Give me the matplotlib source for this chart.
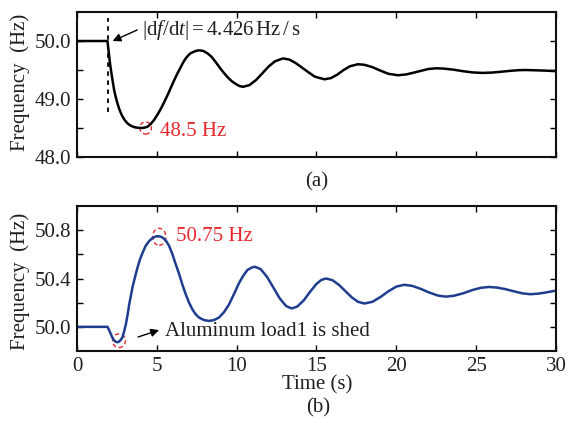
import numpy as np
import matplotlib
matplotlib.use('Agg')
import matplotlib.pyplot as plt
from matplotlib.patches import Ellipse

plt.rcParams['font.family'] = 'Liberation Serif'
plt.rcParams['mathtext.fontset'] = 'custom'
plt.rcParams['mathtext.rm'] = 'Liberation Serif'
plt.rcParams['mathtext.it'] = 'Liberation Serif:italic'

# (a) frequency after the disturbance, black curve
t_a = [0.0, 1.91, 2.02, 2.08, 2.16, 2.24, 2.33, 2.43, 2.54, 2.67, 2.81, 2.98,
       3.16, 3.37, 3.58, 3.79, 4.0, 4.2, 4.41, 4.62, 4.83, 5.04, 5.25, 5.45,
       5.66, 5.87, 6.08, 6.29, 6.5, 6.65, 6.81, 6.96, 7.12, 7.4, 7.64, 7.9,
       8.16, 8.42, 8.68, 9.0, 9.2, 9.42, 9.68, 9.94, 10.17, 10.4,
       10.8, 11.2, 11.6, 12.0, 12.4, 12.9, 13.3, 13.7, 14.1, 14.5, 14.9, 15.5,
       15.9, 16.3, 16.7, 17.1, 17.6, 18.0, 18.5, 19.0, 19.5, 20.1, 20.6, 21.1,
       21.6, 22.0, 22.5, 23.0, 23.6, 24.2, 24.8, 25.4, 26.0, 26.6, 27.2, 27.7,
       28.1, 28.7, 29.3, 30.0]
f_a = [50.0, 50.0, 49.73, 49.59, 49.44, 49.30, 49.15, 49.03, 48.92, 48.81, 48.72, 48.64,
       48.58, 48.54, 48.515, 48.505, 48.50, 48.505, 48.52, 48.57, 48.64, 48.73, 48.83, 48.94,
       49.06, 49.19, 49.32, 49.44, 49.55, 49.63, 49.70, 49.75, 49.79, 49.825, 49.84, 49.83,
       49.79, 49.73, 49.64, 49.52, 49.45, 49.38, 49.31, 49.26, 49.225, 49.21,
       49.24, 49.324, 49.44, 49.56, 49.65, 49.70, 49.68, 49.62, 49.54, 49.46, 49.385, 49.34,
       49.36, 49.42, 49.50, 49.565, 49.60, 49.59, 49.55, 49.49, 49.435, 49.41, 49.423, 49.455,
       49.49, 49.517, 49.53, 49.524, 49.505, 49.479, 49.458, 49.45, 49.456, 49.471, 49.4875, 49.4975,
       49.50, 49.495, 49.49, 49.48]

# (b) frequency with aluminum load1 shed, blue curve
t_b = [0.0, 1.91, 2.02, 2.12, 2.22, 2.33, 2.45, 2.58, 2.72, 2.85, 2.95, 3.06,
       3.17, 3.27, 3.38, 3.48, 3.63, 3.79, 3.95, 4.1, 4.3, 4.52, 4.73, 4.94,
       5.1, 5.25, 5.4, 5.56, 5.77, 5.98, 6.18, 6.39, 6.6, 6.81, 7.02, 7.23,
       7.43, 7.64, 7.95, 8.27, 8.58, 8.89, 9.2, 9.52, 9.83, 10.14, 10.4, 10.67,
       10.93, 11.15, 11.5, 11.9, 12.3, 12.7, 13.1, 13.45, 13.8, 14.2, 14.6, 15.0,
       15.3, 15.6, 16.0, 16.4, 16.8, 17.2, 17.6, 18.0, 18.5, 19.0, 19.5, 20.0,
       20.5, 21.0, 21.5, 22.0, 22.6, 23.1, 23.6, 24.2, 24.8, 25.3, 25.8, 26.3,
       26.8, 27.3, 27.9, 28.4, 28.9, 29.4, 30.0]
f_b = [50.0, 50.0, 49.97, 49.94, 49.91, 49.886, 49.875, 49.873, 49.888, 49.914, 49.96, 50.02,
       50.10, 50.185, 50.26, 50.33, 50.41, 50.49, 50.56, 50.61, 50.67, 50.71, 50.735, 50.748,
       50.75, 50.746, 50.735, 50.715, 50.67, 50.60, 50.52, 50.44, 50.35, 50.27, 50.20, 50.144,
       50.105, 50.077, 50.056, 50.049, 50.056, 50.077, 50.12, 50.185, 50.27, 50.36, 50.42, 50.47,
       50.49, 50.497, 50.478, 50.414, 50.325, 50.235, 50.172, 50.152, 50.168, 50.219, 50.29, 50.355,
       50.388, 50.40, 50.386, 50.348, 50.297, 50.245, 50.207, 50.193, 50.207, 50.246, 50.294, 50.333,
       50.348, 50.339, 50.316, 50.287, 50.259, 50.25, 50.257, 50.278, 50.306, 50.323, 50.33, 50.325,
       50.313, 50.296, 50.277, 50.27, 50.275, 50.285, 50.30]

x_ticks = [0, 5, 10, 15, 20, 25, 30]
ya_ticks = [48.0, 48.5, 49.0, 49.5, 50.0]
ya_labels = ['48.0', '', '49.0', '', '50.0']
yb_ticks = [50.0, 50.2, 50.4, 50.6, 50.8]
yb_labels = ['50.0', '', '50.4', '', '50.8']

txt = '#231f20'
red = '#e8262d'
fs = 15

fig = plt.figure(figsize=(5.69, 4.23), dpi=100)
ax1 = fig.add_axes([0.1353, 0.6288, 0.8418, 0.3428])
ax2 = fig.add_axes([0.1353, 0.1702, 0.8418, 0.3428])

for ax in (ax1, ax2):
    ax.set_xlim(0, 30)
    ax.set_xticks(x_ticks)
    ax.tick_params(direction='in', top=True, right=True, length=4, width=1,
                   labelsize=fs, labelcolor=txt, pad=4)
    for s in ax.spines.values():
        s.set_linewidth(1.5)
        s.set_color('#111111')

# ---- (a)
ax1.plot(t_a, f_a, color='black', lw=1.8)
ax1.set_ylim(48.0, 50.5)
ax1.set_yticks(ya_ticks)
ax1.set_yticklabels(ya_labels)
ax1.set_xticklabels([])
ax1.plot([1.92, 1.92], [48.77, 50.40], color='black', lw=1.3, ls=(0, (2.5, 2.5)))
ax1.annotate('', xy=(2.23, 50.0), xytext=(3.77, 50.19),
             arrowprops=dict(arrowstyle='-|>', color='black', lw=1.0,
                             mutation_scale=12, shrinkA=0, shrinkB=0))
ax1.text(4.1, 50.19, r'$|\mathrm{d}f/\mathrm{d}t| = 4.426\,\mathrm{Hz\,/\,s}$',
         fontsize=fs, color=txt, ha='left', va='center')
ax1.add_patch(Ellipse((4.3, 48.50), 0.73, 0.21, fill=False, ec=red, lw=1.0, ls=(0, (3, 2))))
ax1.text(5.2, 48.44, '48.5 Hz', fontsize=fs, color=red, ha='left', va='center')

# ---- (b)
ax2.plot(t_b, f_b, color='#1f3d8f', lw=1.8)
ax2.set_ylim(49.8, 51.0)
ax2.set_yticks(yb_ticks)
ax2.set_yticklabels(yb_labels)
ax2.add_patch(Ellipse((5.15, 50.745), 0.83, 0.14, fill=False, ec=red, lw=1.0, ls=(0, (3, 2))))
ax2.add_patch(Ellipse((2.63, 49.885), 0.81, 0.114, fill=False, ec=red, lw=1.0, ls=(0, (3, 2))))
ax2.text(6.2, 50.747, '50.75 Hz', fontsize=fs, color=red, ha='left', va='center')
ax2.annotate('', xy=(5.14, 49.973), xytext=(3.83, 49.916),
             arrowprops=dict(arrowstyle='-|>', color='black', lw=1.0,
                             mutation_scale=12, shrinkA=0, shrinkB=0))
ax2.text(5.52, 49.965, 'Aluminum load1 is shed', fontsize=fs, color=txt,
         ha='left', va='center')

fig.text(0.035, 0.805, 'Frequency  (Hz)', rotation=90, fontsize=fs, color=txt,
         ha='center', va='center')
fig.text(0.035, 0.3345, 'Frequency  (Hz)', rotation=90, fontsize=fs, color=txt,
         ha='center', va='center')
fig.text(0.557, 0.5697, '(a)', fontsize=fs, color=txt, ha='center', va='center')
fig.text(0.557, 0.0898, 'Time (s)', fontsize=fs, color=txt, ha='center', va='center')
fig.text(0.559, 0.0355, '(b)', fontsize=fs, color=txt, ha='center', va='center')

fig.savefig('out.png', dpi=100)
